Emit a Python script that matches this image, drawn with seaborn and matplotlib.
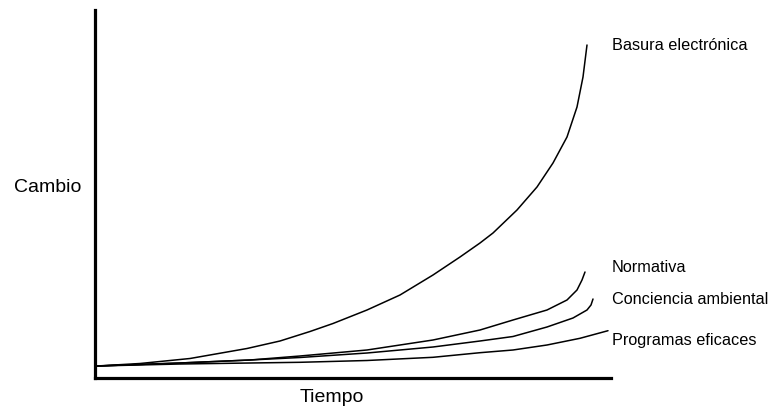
import matplotlib
matplotlib.use("Agg")
import matplotlib.pyplot as plt
import seaborn as sns
import pandas as pd

# Values (time units / change units from the origin)
basura_x = [2, 45, 95, 152, 185, 215, 238, 272, 305, 338, 365, 385, 398, 422, 442, 458, 472, 482, 488, 492]
basura_y = [12, 14.5, 19.5, 29.5, 37, 46.5, 54.5, 68, 83, 103, 121, 135, 145, 168, 191, 215, 241, 271, 301, 333]

normativa_x = [2, 85, 155, 205, 272, 338, 385, 418, 452, 472, 482, 487, 490]
normativa_y = [12, 15, 18, 22, 28, 38, 48, 58, 68, 78, 88, 98, 106]

conciencia_x = [2, 85, 155, 205, 272, 338, 385, 418, 452, 478, 492, 496, 498]
conciencia_y = [12, 15, 18, 20.5, 25, 31, 37, 41.5, 51, 60, 68, 73, 79]

programas_x = [2, 85, 155, 205, 272, 338, 385, 418, 452, 485, 513]
programas_y = [12, 14, 15, 15.7, 17.5, 20.7, 25.3, 28, 33, 39.7, 47.3]

series_names = ["Basura electrónica", "Normativa", "Conciencia ambiental", "Programas eficaces"]
label_y = [333, 111, 78, 37]

frames = []
for name, xs, ys in zip(series_names,
                        [basura_x, normativa_x, conciencia_x, programas_x],
                        [basura_y, normativa_y, conciencia_y, programas_y]):
    frames.append(pd.DataFrame({"tiempo": xs, "cambio": ys, "serie": name}))
df = pd.concat(frames, ignore_index=True)

sns.set_style("white")
plt.rcParams["font.family"] = ["Liberation Sans", "DejaVu Sans"]
plt.rcParams["text.color"] = "black"
plt.rcParams["axes.labelcolor"] = "black"

fig = plt.figure(figsize=(7.68, 4.07), dpi=100)
ax = fig.add_axes([95 / 768, 29 / 407, 516 / 768, 368 / 407])

sns.lineplot(data=df, x="tiempo", y="cambio", units="serie", estimator=None,
             sort=False, color="black", linewidth=1.1, ax=ax)

ax.set_xlim(0, 516)
ax.set_ylim(0, 368)
ax.set_xticks([])
ax.set_yticks([])
sns.despine(ax=ax)
for side in ["left", "bottom"]:
    ax.spines[side].set_linewidth(2.3)
    ax.spines[side].set_color("black")

for name, y in zip(series_names, label_y):
    ax.text(517, y, name, fontsize=11.7, va="center", ha="left", clip_on=False)

ax.set_xlabel("Tiempo", fontsize=14, va="center", ha="center")
ax.set_ylabel("Cambio", fontsize=14, rotation=0, va="center", ha="center")
ax.xaxis.set_label_coords(0.459, -0.052)
ax.yaxis.set_label_coords(-0.091, 0.519)

fig.savefig("out.png", dpi=100)
